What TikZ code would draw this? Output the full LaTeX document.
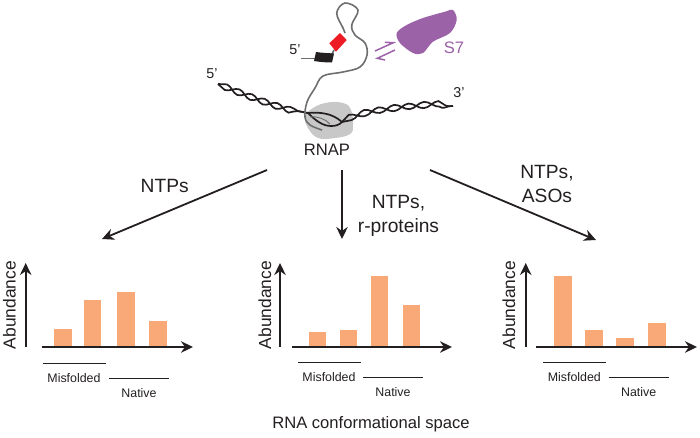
\documentclass[tikz,border=0pt]{standalone}
\usepackage{fontspec}
\setmainfont{Liberation Sans}
\usetikzlibrary{arrows.meta,decorations.pathmorphing}
\definecolor{barfill}{HTML}{F9A878}
\definecolor{polgrey}{HTML}{C8C8C8}
\definecolor{rnagrey}{HTML}{6D6E70}
\definecolor{sevenpurple}{HTML}{9B62A8}
\definecolor{hairpinred}{HTML}{ED1C24}
\definecolor{inktext}{HTML}{231F20}
\tikzset{
  label16/.style={font=\fontsize{16.6}{20}\selectfont,text=inktext,inner sep=0pt},
  cond/.style={font=\fontsize{19.2}{24}\selectfont,text=inktext,inner sep=0pt,align=center},
  label12/.style={font=\fontsize{12.4}{14}\selectfont,text=inktext,inner sep=0pt},
  ylabel/.style={font=\fontsize{17.4}{19}\selectfont,text=inktext,inner sep=0pt,rotate=90},
  prime/.style={font=\fontsize{14.3}{16}\selectfont,text=inktext,inner sep=0pt},
  flow/.style={draw=inktext,line width=1.8pt,-{Stealth[length=12pt,width=11.5pt]}},
  axis/.style={draw=inktext,line width=1.7pt,-{Stealth[length=12pt,width=11.5pt]}},
  rule/.style={draw=inktext,line width=0.8pt},
  bar/.style={fill=barfill,draw=none},
  strand/.style={draw=inktext,line width=1.7pt},
  rna/.style={draw=rnagrey,line width=1.6pt},
  harpoon/.style={draw=sevenpurple,line width=1.5pt}
}
% One abundance plot: y axis x, x axis start and end, bars (left edge/top),
% x of the rotated label, rule height, centres of the two region labels
\newcommand{\abundanceplot}[9]{%
  \coordinate (#1ya) at (#2,347);
  \coordinate (#1yb) at (#2,263);
  \coordinate (#1xa) at (#3,347);
  \coordinate (#1xb) at (#4,347);
  \foreach \bx/\bt in {#5}{\fill[bar] (\bx,347) rectangle (\bx+17.5,\bt);}
  \draw[axis] (#1ya) -- (#1yb);
  \draw[axis] (#1xa) -- (#1xb);
  \node[ylabel] (#1abund) at (#6,305) {Abundance};
  \coordinate (#1ma) at (#8-31,#7);
  \coordinate (#1mb) at (#8+32,#7);
  \coordinate (#1na) at (#9-30,#7+15);
  \coordinate (#1nb) at (#9+30,#7+15);
  \draw[rule] (#1ma) -- (#1mb);
  \draw[rule] (#1na) -- (#1nb);
  \node[label12] (#1mis) at (#8,#7+15) {Misfolded};
  \node[label12] (#1nat) at (#9,#7+30.5) {Native};
}
\begin{document}
\begin{tikzpicture}[x=1pt,y=-1pt]
\useasboundingbox (0,0) rectangle (700,437);

% Polymerase footprint
\fill[polgrey] plot[smooth cycle,tension=0.7] coordinates {(310,110) (325,103) (343,103) (351,110) (353,125) (350,134) (335,138) (318,138) (308,128) (305,117)};
\node[label16] (rnap) at (327,150) {RNAP};

% DNA duplex, upstream and downstream arms
\coordinate (dnaL) at (218,84);
\coordinate (dnaM) at (308,113);
\coordinate (dnaB) at (342,122);
\coordinate (dnaR) at (453,106);
\draw[strand,decorate,decoration={snake,segment length=27pt,amplitude=3pt}] (dnaL) .. controls (250,97) and (280,108) .. (dnaM);
\draw[strand,decorate,decoration={snake,segment length=27pt,amplitude=3pt,mirror}] (dnaL) .. controls (250,97) and (280,108) .. (dnaM);
\draw[strand,decorate,decoration={snake,segment length=30pt,amplitude=3pt}] (dnaB) .. controls (360,112) and (420,108) .. (dnaR);
\draw[strand,decorate,decoration={snake,segment length=30pt,amplitude=3pt,mirror}] (dnaB) .. controls (360,112) and (420,108) .. (dnaR);
% Transcription bubble
\draw[strand] (dnaM) .. controls (316,121) and (323,126) .. (331,126) .. controls (336,126) and (339,125) .. (dnaB);
\draw[strand] (dnaM) .. controls (320,112) and (332,113) .. (dnaB);

% Nascent RNA leaving the polymerase
\coordinate (rnaStart) at (322,130);
\coordinate (rnaTop) at (345,33);
\draw[rna] plot[smooth,tension=0.6] coordinates {(rnaStart) (310,125) (305,117) (307,102) (315,88) (323,76) (343,72) (360,67) (367,55) (365,43) (355,35) (351.7,25) (358,10) (345,3) (336.7,13) (343,28) (rnaTop)};
\draw[rnagrey,line width=0.9pt] (310,117) .. controls (318,116) and (325,119) .. (330,124);
\coordinate (stubL) at (301,58.5);
\coordinate (stubR) at (316,58.5);
\draw[rna] (stubL) -- (stubR);
\coordinate (linkA) at (334,50);
\coordinate (linkB) at (331,56);
\draw[rna] (linkA) -- (linkB);

% Hairpin elements
\fill[inktext] (316,52) .. controls (322,53) and (328,53) .. (334,53.5) -- (332,62.5) .. controls (326,62.5) and (320,62) .. (314,61) -- cycle;
\fill[hairpinred] (329.3,43.3) -- (340,33) -- (346.7,40) -- (336,51.7) -- cycle;

% Ribosomal protein S7 and its binding equilibrium
\fill[sevenpurple] plot[smooth cycle,tension=0.55] coordinates {(396.7,33) (406.7,25) (423,18) (445,11.7) (453,10) (456.7,20) (450,33) (433,41.7) (423,53) (413,53) (400,43)};
\node[label16,text=sevenpurple] (seven) at (454,48) {S7};
\coordinate (upA) at (375,51);
\coordinate (upB) at (393.3,42.7);
\coordinate (upC) at (385,42.3);
\coordinate (loA) at (395,50);
\coordinate (loB) at (377.3,58.3);
\coordinate (loC) at (385,60);
\draw[harpoon] (upA) -- (upB) -- (upC);
\draw[harpoon] (loA) -- (loB) -- (loC);

% End labels
\node[prime] (fiveRna) at (295,50) {5'};
\node[prime] (fiveDna) at (212,74) {5'};
\node[prime] (threeDna) at (459,93) {3'};

% Branching conditions
\coordinate (fromL) at (267,170);
\coordinate (toL) at (102,239);
\coordinate (fromC) at (342,170);
\coordinate (toC) at (342,239);
\coordinate (fromR) at (430,170);
\coordinate (toR) at (596,240);
\draw[flow] (fromL) -- (toL);
\draw[flow] (fromC) -- (toC);
\draw[flow] (fromR) -- (toR);
\node[cond] (condA) at (164.7,186) {NTPs};
\node[cond] (condB) at (398.5,215.5) {NTPs,\\r-proteins};
\node[cond] (condC) at (547,184) {NTPs,\\ASOs};

% Abundance plots
\abundanceplot{a}{25.7}{41.7}{193}{54/329,83.7/300,117.3/292,149/320.5}{9.5}{363}{74}{139}
\abundanceplot{b}{280}{292}{452}{308.5/332,339.5/330,370.5/276,402.5/305}{265}{362}{329}{393}
\abundanceplot{c}{525.7}{535.7}{697}{554.3/275.7,585.2/330,616/338,648/323}{509}{362}{574.3}{638.7}

\node[label16] (space) at (371,424) {RNA conformational space};
\end{tikzpicture}
\end{document}
